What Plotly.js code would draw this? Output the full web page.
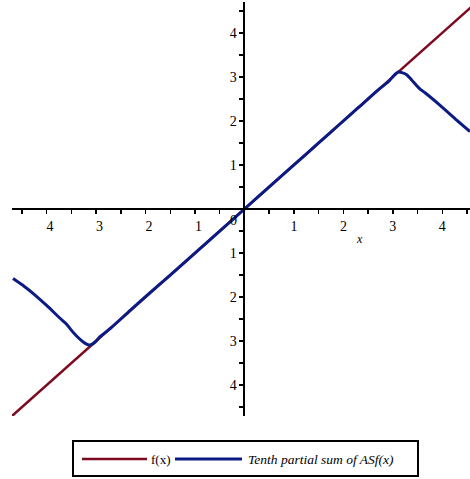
<!DOCTYPE html>
<html lang="en">
<head>
  <meta charset="UTF-8" />
  <title>Tenth partial sum</title>
  <script src="https://cdn.plot.ly/plotly-3.0.1.min.js"></script>
  <style>
    body { margin: 0; background: white; }
    #chart { width: 470px; height: 479px; }
  </style>
</head>
<body>
  <div id="chart"></div>
  <script>
    // f(x) = x
    const fX = [-4.7, 4.7];
    const fY = [-4.7, 4.7];

    // tenth partial sum
    const sX = [-4.68, -4.45, -4.27, -4.0, -3.73, -3.6, -3.53, -3.39, -3.22, -3.12, -3.02, -2.92,
                -2.7, -2.31, -2.0, -1.5, -1.0, -0.5, 0, 0.5, 1.0, 1.5, 1.93, 2.3, 2.7, 2.92,
                3.02, 3.11, 3.2, 3.28, 3.38, 3.55, 3.65, 3.95, 4.29, 4.56];
    const sY = [-1.58, -1.76, -1.92, -2.19, -2.48, -2.61, -2.71, -2.89, -3.05, -3.09, -3.02, -2.90,
                -2.70, -2.30, -1.99, -1.50, -1.00, -0.50, 0, 0.50, 1.00, 1.50, 1.93, 2.30, 2.70, 2.90,
                3.03, 3.11, 3.09, 3.05, 2.93, 2.72, 2.64, 2.36, 2.02, 1.76];

    const tickVals = [-4, -3, -2, -1, 1, 2, 3, 4];
    // the minus signs are missing in the original
    const tickText = ['\u20024', '\u20023', '\u20022', '\u20021', '1', '2', '3', '4'];
    const xRange = [-4.7, 4.56];
    const yRange = [-4.7, 4.7];

    const redColor = '#7d0a1e';
    const blueColor = '#0b1b85';
    const serif = '"Liberation Serif", "Times New Roman", serif';

    // plot area in page pixels
    const L = 12, T = 2, W = 458, H = 414;
    const px = x => (x - L) / W;
    const py = y => (T + H - y) / H;

    function axis(range, position) {
      return {
        range: range,
        position: position,
        anchor: 'free',
        showgrid: false,
        zeroline: false,
        showline: true,
        linecolor: 'black',
        linewidth: 2,
        ticks: 'outside',
        ticklen: 4,
        tickwidth: 1.5,
        tickcolor: 'black',
        tickmode: 'array',
        tickvals: tickVals,
        ticktext: tickText,
        tickfont: { family: serif, size: 14, color: 'black' },
        minor: { tickmode: 'linear', tick0: 0, dtick: 0.5, ticks: 'outside', ticklen: 4, tickwidth: 1.5, tickcolor: 'black' },
        fixedrange: true
      };
    }

    const traces = [
      { x: fX, y: fY, type: 'scatter', mode: 'lines', name: 'f(x)',
        line: { color: redColor, width: 2.5 }, hoverinfo: 'skip', showlegend: false },
      { x: sX, y: sY, type: 'scatter', mode: 'lines', name: 'Tenth partial sum of ASf(x)',
        line: { color: blueColor, width: 3, shape: 'spline', smoothing: 0.6 }, hoverinfo: 'skip', showlegend: false }
    ];

    const legendY = py(459);
    const layout = {
      width: 470,
      height: 479,
      margin: { l: L, r: 0, t: T, b: 479 - T - H },
      font: { family: serif, size: 14, color: 'black' },
      paper_bgcolor: 'white',
      plot_bgcolor: 'white',
      showlegend: false,
      xaxis: axis(xRange, (0 - yRange[0]) / (yRange[1] - yRange[0])),
      yaxis: axis(yRange, (0 - xRange[0]) / (xRange[1] - xRange[0])),
      shapes: [
        { type: 'rect', xref: 'paper', yref: 'paper', x0: px(73), x1: px(418), y0: py(476), y1: py(441),
          line: { color: 'black', width: 2 }, fillcolor: 'white' },
        { type: 'line', xref: 'paper', yref: 'paper', x0: px(82), x1: px(147), y0: legendY, y1: legendY,
          line: { color: redColor, width: 2.5 } },
        { type: 'line', xref: 'paper', yref: 'paper', x0: px(175), x1: px(242), y0: legendY, y1: legendY,
          line: { color: blueColor, width: 3 } }
      ],
      annotations: [
        { x: -0.23, y: -0.25, xref: 'x', yref: 'y', text: '0', showarrow: false,
          font: { family: serif, size: 14, color: 'black' } },
        { x: 2.33, y: -0.68, xref: 'x', yref: 'y', text: '<i>x</i>', showarrow: false,
          font: { family: serif, size: 12, color: 'black' } },
        { x: px(149), y: legendY, xref: 'paper', yref: 'paper', xanchor: 'left', yanchor: 'middle',
          text: 'f(x)', showarrow: false, font: { family: serif, size: 13, color: 'black' } },
        { x: px(246), y: legendY, xref: 'paper', yref: 'paper', xanchor: 'left', yanchor: 'middle',
          text: '<i>Tenth partial sum of ASf(x)</i>', showarrow: false,
          font: { family: serif, size: 13.5, color: 'black' } }
      ]
    };

    Plotly.newPlot('chart', traces, layout, { displayModeBar: false, staticPlot: true });
  </script>
</body>
</html>
